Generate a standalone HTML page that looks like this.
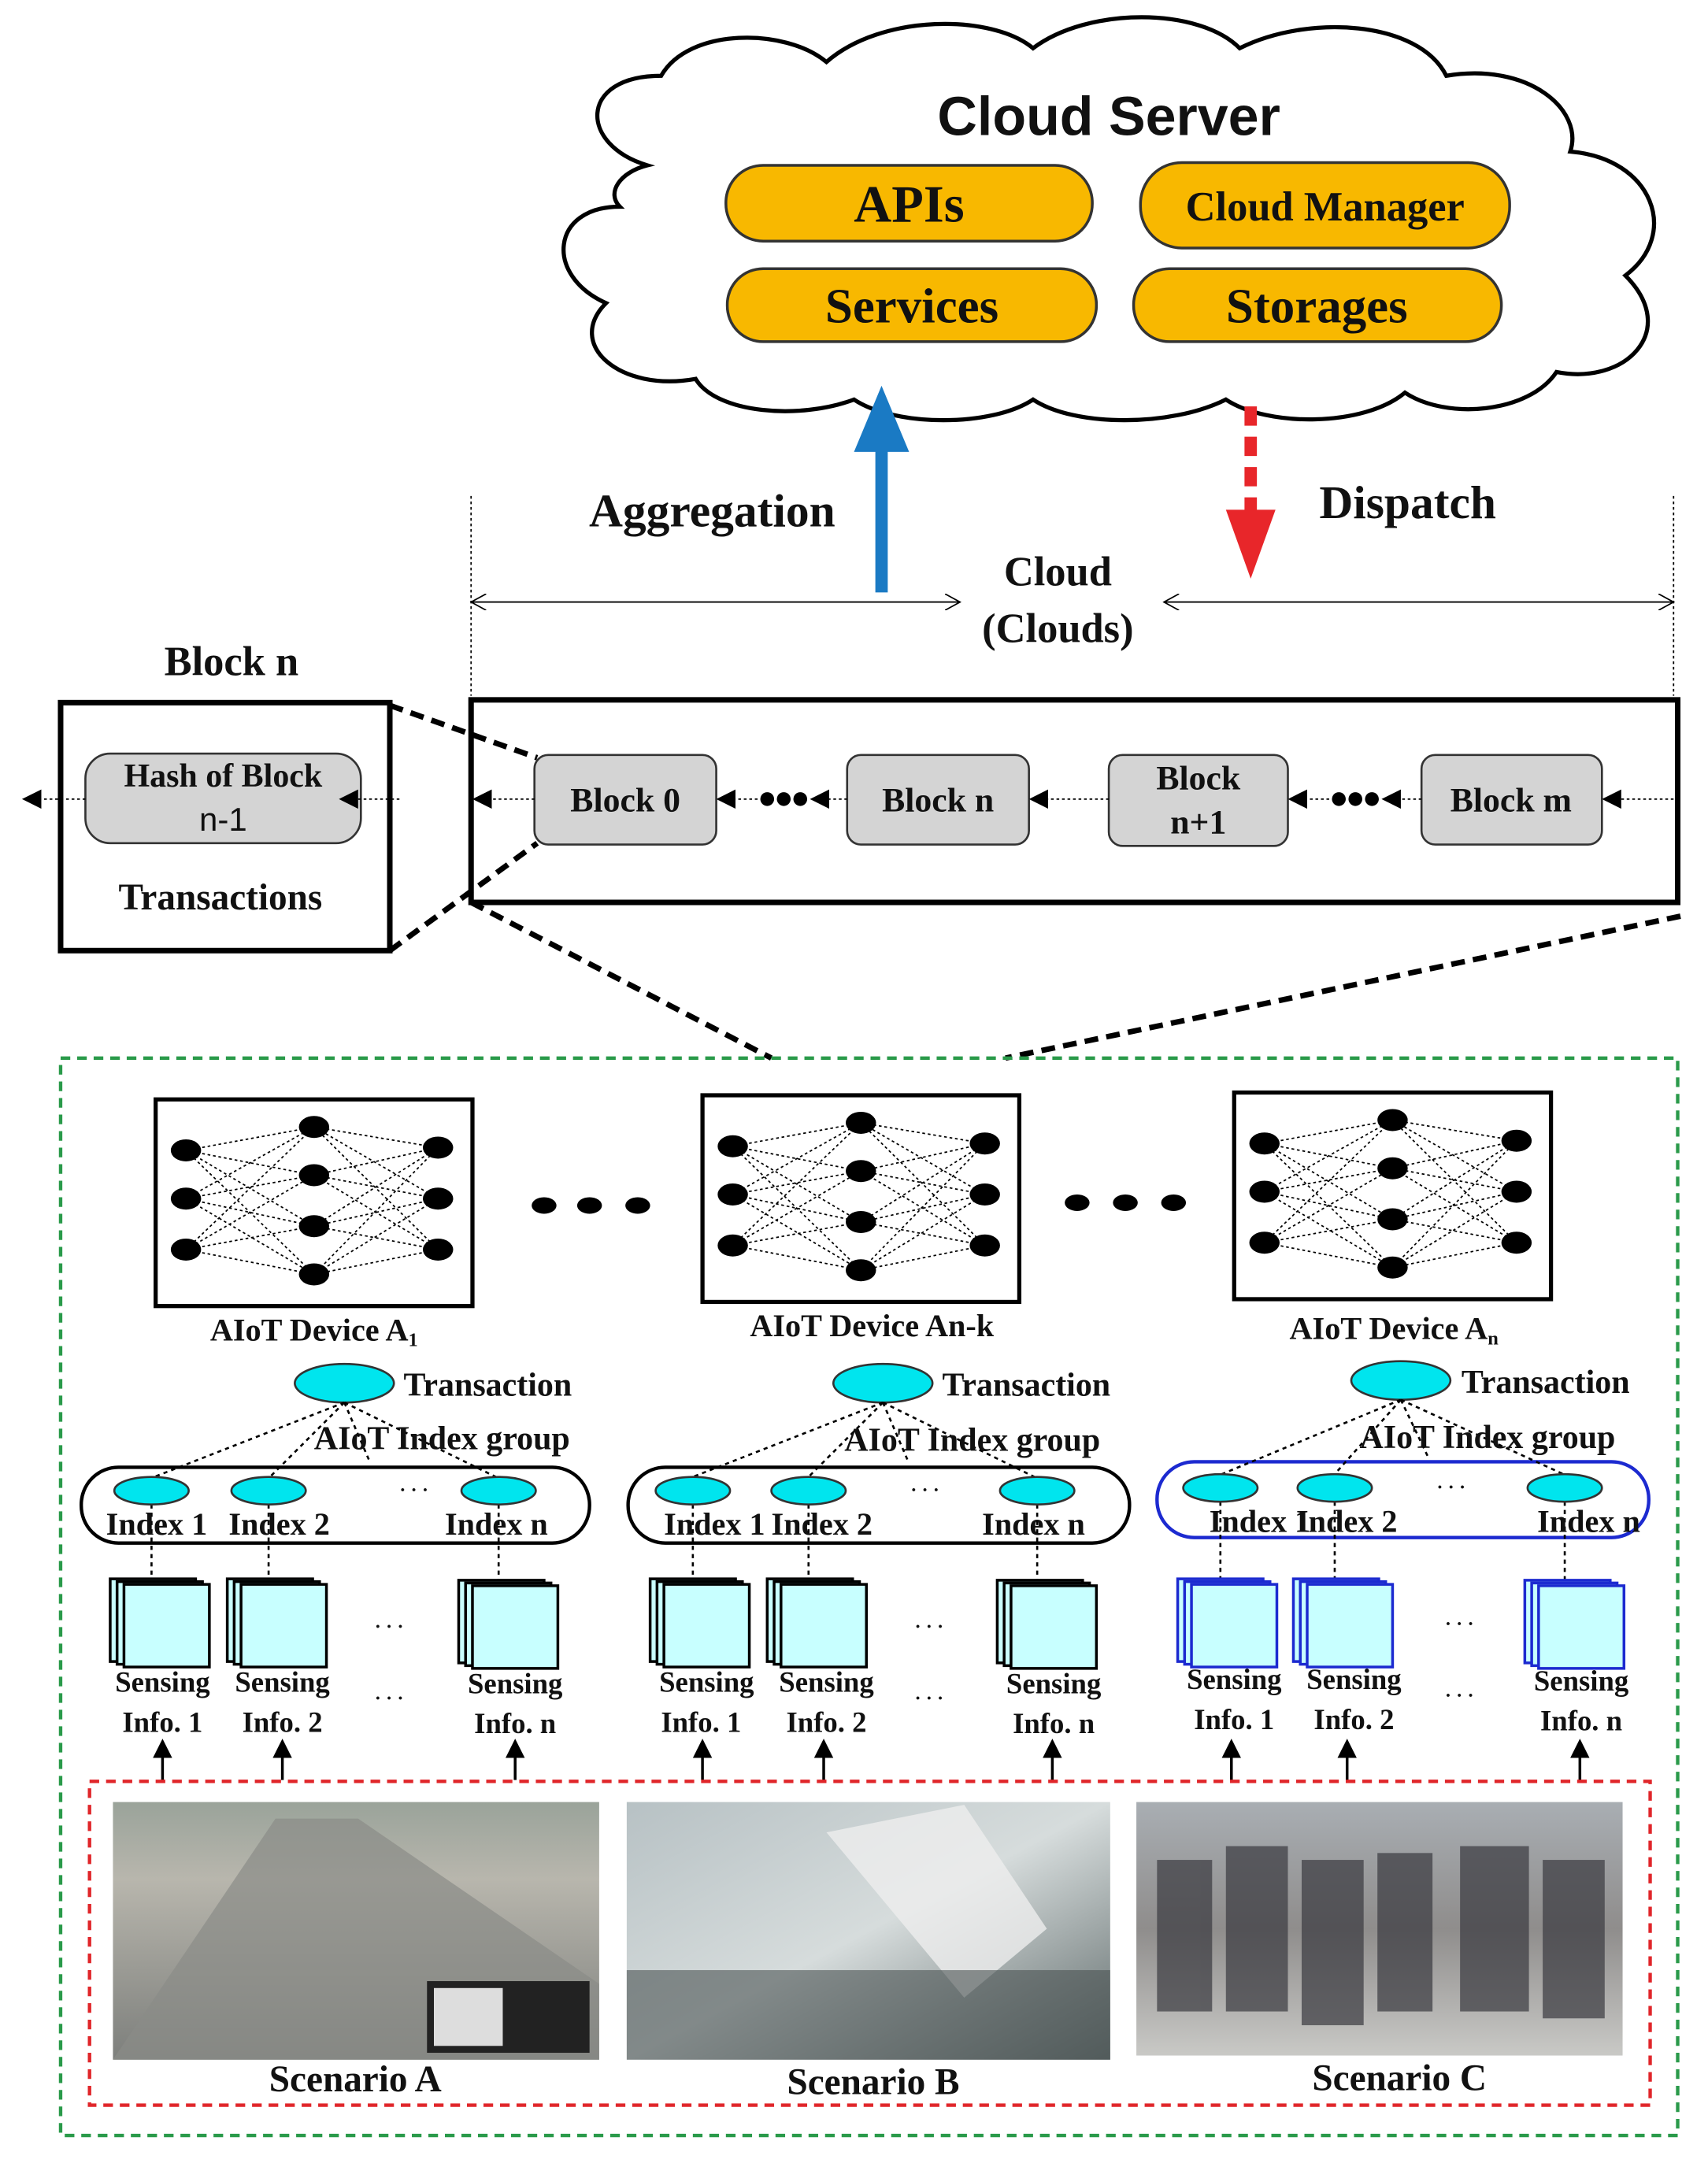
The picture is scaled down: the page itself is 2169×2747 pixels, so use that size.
<!DOCTYPE html>
<html><head><meta charset="utf-8"><style>
html,body{margin:0;padding:0;background:#fff;}
svg{display:block;}
text{font-family:"Liberation Serif",serif;font-weight:bold;fill:#111;}
.sans{font-family:"Liberation Sans",sans-serif;}
</style></head><body>
<svg width="2169" height="2747" viewBox="0 0 1240 1570" preserveAspectRatio="none" xmlns="http://www.w3.org/2000/svg">
<defs>
<marker id="ah" markerWidth="10" markerHeight="10" refX="9" refY="5" orient="auto" markerUnits="userSpaceOnUse"><path d="M0,0 L10,5 L0,10 z" fill="#000"/></marker>
<marker id="ao" markerWidth="12" markerHeight="12" refX="11" refY="6" orient="auto" markerUnits="userSpaceOnUse"><path d="M0,0 L11,6 L0,12" fill="none" stroke="#000" stroke-width="1"/></marker>
<marker id="ab" markerWidth="14" markerHeight="14" refX="12" refY="7" orient="auto" markerUnits="userSpaceOnUse"><path d="M0,0 L14,7 L0,14 z" fill="#000"/></marker>
<g id="nn">
<g stroke="#000" stroke-width="1" stroke-dasharray="2,2">
<path d="M22,37L115,20M22,37L115,55M22,37L115,92M22,37L115,127M22,72L115,20M22,72L115,55M22,72L115,92M22,72L115,127M22,109L115,20M22,109L115,55M22,109L115,92M22,109L115,127M205,35L115,20M205,35L115,55M205,35L115,92M205,35L115,127M205,72L115,20M205,72L115,55M205,72L115,92M205,72L115,127M205,109L115,20M205,109L115,55M205,109L115,92M205,109L115,127"/>
</g>
<g fill="#000">
<ellipse cx="22" cy="37" rx="11" ry="8"/><ellipse cx="22" cy="72" rx="11" ry="8"/><ellipse cx="22" cy="109" rx="11" ry="8"/>
<ellipse cx="115" cy="20" rx="11" ry="8"/><ellipse cx="115" cy="55" rx="11" ry="8"/><ellipse cx="115" cy="92" rx="11" ry="8"/><ellipse cx="115" cy="127" rx="11" ry="8"/>
<ellipse cx="205" cy="35" rx="11" ry="8"/><ellipse cx="205" cy="72" rx="11" ry="8"/><ellipse cx="205" cy="109" rx="11" ry="8"/>
</g>
<rect x="0" y="0" width="230" height="150" fill="none" stroke="#000" stroke-width="3"/>
</g>
<g id="stk">
<rect x="0" y="0" width="62" height="60" fill="#c8ffff" stroke="currentColor" stroke-width="2"/>
<rect x="5" y="2" width="62" height="60" fill="#c8ffff" stroke="currentColor" stroke-width="2"/>
<rect x="10" y="4" width="62" height="60" fill="#c8ffff" stroke="currentColor" stroke-width="2"/>
</g>
<linearGradient id="gA" x1="0" y1="0" x2="0" y2="1"><stop offset="0" stop-color="#9aa39a"/><stop offset="0.3" stop-color="#b8b6ad"/><stop offset="1" stop-color="#7d7f7c"/></linearGradient>
<linearGradient id="gB" x1="0" y1="0" x2="1" y2="1"><stop offset="0" stop-color="#b7c1c4"/><stop offset="0.5" stop-color="#d6dcdc"/><stop offset="1" stop-color="#5f6a6a"/></linearGradient>
<linearGradient id="gC" x1="0" y1="0" x2="0" y2="1"><stop offset="0" stop-color="#a9aeb3"/><stop offset="0.5" stop-color="#8f8d8c"/><stop offset="1" stop-color="#c9c9c6"/></linearGradient>
</defs>

<!-- Cloud -->
<path d="M470,120 C420,105 420,55 480,55 C500,20 570,20 600,45 C640,10 720,10 750,35 C790,5 870,5 900,35 C950,10 1030,15 1050,55 C1110,45 1150,80 1140,110 C1200,115 1220,170 1180,200 C1220,240 1180,280 1130,270 C1110,300 1050,305 1020,285 C990,310 920,310 890,290 C850,310 780,310 750,290 C720,310 650,310 620,290 C580,305 520,300 505,275 C450,285 410,250 440,220 C395,200 400,150 450,150 C440,140 450,125 470,120 Z" fill="#fff" stroke="#000" stroke-width="3"/>
<text x="805" y="98" text-anchor="middle" class="sans" font-size="40">Cloud Server</text>
<g fill="#f8b800" stroke="#333" stroke-width="2">
<rect x="527" y="120" width="266" height="55" rx="27"/>
<rect x="828" y="118" width="268" height="62" rx="30"/>
<rect x="528" y="195" width="268" height="53" rx="26"/>
<rect x="823" y="195" width="267" height="53" rx="26"/>
</g>
<text x="660" y="161" text-anchor="middle" font-size="38">APIs</text>
<text x="962" y="160" text-anchor="middle" font-size="30">Cloud Manager</text>
<text x="662" y="234" text-anchor="middle" font-size="36">Services</text>
<text x="956" y="234" text-anchor="middle" font-size="36">Storages</text>

<!-- arrows -->
<line x1="640" y1="430" x2="640" y2="325" stroke="#1a7ac4" stroke-width="9"/>
<path d="M620,328 L640,280 L660,328 Z" fill="#1a7ac4"/>
<line x1="908" y1="295" x2="908" y2="372" stroke="#e8262a" stroke-width="9" stroke-dasharray="14,8"/>
<path d="M890,370 L908,420 L926,370 Z" fill="#e8262a"/>
<text x="517" y="382" text-anchor="middle" font-size="34">Aggregation</text>
<text x="1022" y="376" text-anchor="middle" font-size="34">Dispatch</text>
<line x1="342" y1="360" x2="342" y2="505" stroke="#000" stroke-width="1" stroke-dasharray="2,2"/>
<line x1="1215" y1="360" x2="1215" y2="505" stroke="#000" stroke-width="1" stroke-dasharray="2,2"/>
<line x1="342" y1="437" x2="697" y2="437" stroke="#000" stroke-width="1" marker-end="url(#ao)"/>
<line x1="697" y1="437" x2="342" y2="437" stroke="#000" stroke-width="1" marker-end="url(#ao)"/>
<line x1="845" y1="437" x2="1215" y2="437" stroke="#000" stroke-width="1" marker-end="url(#ao)"/>
<line x1="1215" y1="437" x2="845" y2="437" stroke="#000" stroke-width="1" marker-end="url(#ao)"/>
<text x="768" y="425" text-anchor="middle" font-size="30">Cloud</text>
<text x="768" y="466" text-anchor="middle" font-size="30">(Clouds)</text>

<!-- Block n box -->
<text x="168" y="490" text-anchor="middle" font-size="30">Block n</text>
<rect x="44" y="510" width="239" height="180" fill="#fff" stroke="#000" stroke-width="4"/>
<rect x="62" y="547" width="200" height="65" rx="18" fill="#d4d4d4" stroke="#333" stroke-width="1.5"/>
<text x="162" y="571" text-anchor="middle" font-size="24">Hash of Block</text>
<text x="162" y="603" text-anchor="middle" font-size="24" font-weight="normal" class="sans" style="font-weight:normal">n-1</text>
<text x="160" y="660" text-anchor="middle" font-size="27">Transactions</text>
<line x1="290" y1="580" x2="248" y2="580" stroke="#000" stroke-dasharray="2,2" marker-end="url(#ab)"/>
<line x1="62" y1="580" x2="18" y2="580" stroke="#000" stroke-dasharray="2,2" marker-end="url(#ab)"/>

<!-- Chain -->
<rect x="342" y="508" width="876" height="147" fill="none" stroke="#000" stroke-width="4"/>
<g fill="#d4d4d4" stroke="#333" stroke-width="1.5">
<rect x="388" y="548" width="132" height="65" rx="10"/>
<rect x="615" y="548" width="132" height="65" rx="10"/>
<rect x="805" y="548" width="130" height="66" rx="10"/>
<rect x="1032" y="548" width="131" height="65" rx="10"/>
</g>
<text x="454" y="589" text-anchor="middle" font-size="25">Block 0</text>
<text x="681" y="589" text-anchor="middle" font-size="25">Block n</text>
<text x="870" y="573" text-anchor="middle" font-size="25">Block</text>
<text x="870" y="605" text-anchor="middle" font-size="25">n+1</text>
<text x="1097" y="589" text-anchor="middle" font-size="25">Block m</text>
<g stroke="#000" stroke-width="1" stroke-dasharray="2,2">
<line x1="1215" y1="580" x2="1165" y2="580" marker-end="url(#ab)"/>
<line x1="1032" y1="580" x2="1005" y2="580" marker-end="url(#ab)"/>
<line x1="965" y1="580" x2="937" y2="580" marker-end="url(#ab)"/>
<line x1="805" y1="580" x2="749" y2="580" marker-end="url(#ab)"/>
<line x1="615" y1="580" x2="590" y2="580" marker-end="url(#ab)"/>
<line x1="550" y1="580" x2="522" y2="580" marker-end="url(#ab)"/>
<line x1="388" y1="580" x2="345" y2="580" marker-end="url(#ab)"/>
</g>
<g fill="#000"><circle cx="557" cy="580" r="5"/><circle cx="569" cy="580" r="5"/><circle cx="581" cy="580" r="5"/>
<circle cx="972" cy="580" r="5"/><circle cx="984" cy="580" r="5"/><circle cx="996" cy="580" r="5"/></g>

<!-- dashed zoom lines -->
<g stroke="#000" stroke-width="4" stroke-dasharray="10,6">
<line x1="283" y1="512" x2="390" y2="550"/>
<line x1="283" y1="690" x2="390" y2="612"/>
<line x1="342" y1="655" x2="560" y2="768"/>
<line x1="1220" y1="665" x2="730" y2="768"/>
</g>

<!-- Green dashed box -->
<rect x="44" y="768" width="1174" height="782" fill="none" stroke="#2a9a4a" stroke-width="2.5" stroke-dasharray="7,5"/>

<use href="#nn" x="113" y="798"/>
<use href="#nn" x="510" y="795"/>
<use href="#nn" x="896" y="793"/>
<g fill="#000">
<ellipse cx="395" cy="875" rx="9" ry="6"/><ellipse cx="428" cy="875" rx="9" ry="6"/><ellipse cx="463" cy="875" rx="9" ry="6"/>
<ellipse cx="782" cy="873" rx="9" ry="6"/><ellipse cx="817" cy="873" rx="9" ry="6"/><ellipse cx="852" cy="873" rx="9" ry="6"/>
</g>
<text x="228" y="973" text-anchor="middle" font-size="23">AIoT Device A<tspan font-size="14" dy="4">1</tspan></text>
<text x="633" y="970" text-anchor="middle" font-size="23">AIoT Device An-k</text>
<text x="1012" y="972" text-anchor="middle" font-size="23">AIoT Device A<tspan font-size="14" dy="4">n</tspan></text>

<!-- groups -->
<g id="grp1">
<rect x="59" y="1065" width="369" height="55" rx="27" fill="none" stroke="#000" stroke-width="2.5"/>
<ellipse cx="250" cy="1004" rx="36" ry="14" fill="#00e5ee" stroke="#333" stroke-width="1.5"/>
<g stroke="#000" stroke-width="1.5" stroke-dasharray="3,3">
<line x1="250" y1="1018" x2="112" y2="1072"/><line x1="250" y1="1018" x2="196" y2="1072"/><line x1="250" y1="1018" x2="268" y2="1060"/><line x1="250" y1="1018" x2="360" y2="1072"/>
<line x1="110" y1="1092" x2="110" y2="1150"/><line x1="195" y1="1092" x2="195" y2="1150"/><line x1="362" y1="1092" x2="362" y2="1150"/>
</g>
<g fill="#00e5ee" stroke="#333" stroke-width="1.5">
<ellipse cx="110" cy="1082" rx="27" ry="10"/><ellipse cx="195" cy="1082" rx="27" ry="10"/><ellipse cx="362" cy="1082" rx="27" ry="10"/></g>
<text x="293" y="1013" font-size="24" font-weight="normal">Transaction</text>
<text x="228" y="1052" font-size="24">AIoT Index group</text>
<text x="290" y="1086" font-size="14">· · ·</text>
<text x="77" y="1114" font-size="23">Index 1</text>
<text x="166" y="1114" font-size="23">Index  2</text>
<text x="323" y="1114" font-size="23">Index n</text>
<use href="#stk" x="80" y="1146" color="#000"/><use href="#stk" x="165" y="1146" color="#000"/><use href="#stk" x="333" y="1147" color="#000"/>
<text x="272" y="1185" font-size="14">· · ·</text>
<text x="272" y="1237" font-size="14">· · ·</text>
<text x="118" y="1228" text-anchor="middle" font-size="21">Sensing</text><text x="118" y="1257" text-anchor="middle" font-size="21">Info. 1</text>
<text x="205" y="1228" text-anchor="middle" font-size="21">Sensing</text><text x="205" y="1257" text-anchor="middle" font-size="21">Info. 2</text>
<text x="374" y="1229" text-anchor="middle" font-size="21">Sensing</text><text x="374" y="1258" text-anchor="middle" font-size="21">Info. n</text>
</g>
<g transform="translate(397,0)">
<rect x="59" y="1065" width="364" height="55" rx="27" fill="none" stroke="#000" stroke-width="2.5"/>
<ellipse cx="244" cy="1004" rx="36" ry="14" fill="#00e5ee" stroke="#333" stroke-width="1.5"/>
<g stroke="#000" stroke-width="1.5" stroke-dasharray="3,3">
<line x1="244" y1="1018" x2="106" y2="1072"/><line x1="244" y1="1018" x2="190" y2="1072"/><line x1="244" y1="1018" x2="262" y2="1060"/><line x1="244" y1="1018" x2="354" y2="1072"/>
<line x1="106" y1="1092" x2="106" y2="1150"/><line x1="190" y1="1092" x2="190" y2="1150"/><line x1="356" y1="1092" x2="356" y2="1150"/>
</g>
<g fill="#00e5ee" stroke="#333" stroke-width="1.5">
<ellipse cx="106" cy="1082" rx="27" ry="10"/><ellipse cx="190" cy="1082" rx="27" ry="10"/><ellipse cx="356" cy="1082" rx="27" ry="10"/></g>
<text x="287" y="1013" font-size="24" font-weight="normal">Transaction</text>
<text x="216" y="1053" font-size="24">AIoT Index group</text>
<text x="264" y="1086" font-size="14">· · ·</text>
<text x="85" y="1114" font-size="23">Index 1</text>
<text x="163" y="1114" font-size="23">Index  2</text>
<text x="316" y="1114" font-size="23">Index n</text>
<use href="#stk" x="75" y="1146" color="#000"/><use href="#stk" x="160" y="1146" color="#000"/><use href="#stk" x="327" y="1147" color="#000"/>
<text x="267" y="1185" font-size="14">· · ·</text>
<text x="267" y="1237" font-size="14">· · ·</text>
<text x="116" y="1228" text-anchor="middle" font-size="21">Sensing</text><text x="112" y="1257" text-anchor="middle" font-size="21">Info. 1</text>
<text x="203" y="1228" text-anchor="middle" font-size="21">Sensing</text><text x="203" y="1257" text-anchor="middle" font-size="21">Info. 2</text>
<text x="368" y="1229" text-anchor="middle" font-size="21">Sensing</text><text x="368" y="1258" text-anchor="middle" font-size="21">Info. n</text>
</g>
<g transform="translate(781,-2)">
<rect x="59" y="1063" width="357" height="55" rx="27" fill="none" stroke="#1c2ad0" stroke-width="2.5"/>
<ellipse cx="236" cy="1004" rx="36" ry="14" fill="#00e5ee" stroke="#333" stroke-width="1.5"/>
<g stroke="#000" stroke-width="1.5" stroke-dasharray="3,3">
<line x1="236" y1="1018" x2="106" y2="1072"/><line x1="236" y1="1018" x2="188" y2="1072"/><line x1="236" y1="1018" x2="256" y2="1060"/><line x1="236" y1="1018" x2="354" y2="1072"/>
<line x1="105" y1="1092" x2="105" y2="1150"/><line x1="188" y1="1092" x2="188" y2="1150"/><line x1="355" y1="1092" x2="355" y2="1150"/>
</g>
<g fill="#00e5ee" stroke="#333" stroke-width="1.5">
<ellipse cx="105" cy="1082" rx="27" ry="10"/><ellipse cx="188" cy="1082" rx="27" ry="10"/><ellipse cx="355" cy="1082" rx="27" ry="10"/></g>
<text x="280" y="1013" font-size="24" font-weight="normal">Transaction</text>
<text x="206" y="1053" font-size="24">AIoT Index group</text>
<text x="262" y="1086" font-size="14">· · ·</text>
<text x="97" y="1114" font-size="23">Index 1</text>
<text x="160" y="1114" font-size="23">Index  2</text>
<text x="335" y="1114" font-size="23">Index n</text>
<use href="#stk" x="74" y="1148" color="#1c2ad0"/><use href="#stk" x="158" y="1148" color="#1c2ad0"/><use href="#stk" x="326" y="1149" color="#1c2ad0"/>
<text x="268" y="1185" font-size="14">· · ·</text>
<text x="268" y="1237" font-size="14">· · ·</text>
<text x="115" y="1228" text-anchor="middle" font-size="21">Sensing</text><text x="115" y="1257" text-anchor="middle" font-size="21">Info. 1</text>
<text x="202" y="1228" text-anchor="middle" font-size="21">Sensing</text><text x="202" y="1257" text-anchor="middle" font-size="21">Info. 2</text>
<text x="367" y="1229" text-anchor="middle" font-size="21">Sensing</text><text x="367" y="1258" text-anchor="middle" font-size="21">Info. n</text>
</g>

<!-- up arrows -->
<g stroke="#000" stroke-width="2">
<line x1="118" y1="1292" x2="118" y2="1264" marker-end="url(#ab)"/>
<line x1="205" y1="1292" x2="205" y2="1264" marker-end="url(#ab)"/>
<line x1="374" y1="1292" x2="374" y2="1264" marker-end="url(#ab)"/>
<line x1="510" y1="1292" x2="510" y2="1264" marker-end="url(#ab)"/>
<line x1="598" y1="1292" x2="598" y2="1264" marker-end="url(#ab)"/>
<line x1="764" y1="1292" x2="764" y2="1264" marker-end="url(#ab)"/>
<line x1="894" y1="1292" x2="894" y2="1264" marker-end="url(#ab)"/>
<line x1="978" y1="1292" x2="978" y2="1264" marker-end="url(#ab)"/>
<line x1="1147" y1="1292" x2="1147" y2="1264" marker-end="url(#ab)"/>
</g>

<!-- red dashed -->
<rect x="65" y="1293" width="1133" height="235" fill="none" stroke="#e0262a" stroke-width="2.5" stroke-dasharray="7,5"/>

<!-- photos -->
<rect x="82" y="1308" width="353" height="187" fill="url(#gA)"/>
<path d="M82,1495 L200,1320 L260,1320 L435,1440 L435,1495 Z" fill="#8a8c88" opacity="0.7"/>
<rect x="310" y="1438" width="118" height="52" fill="#222"/>
<rect x="315" y="1443" width="50" height="42" fill="#ddd"/>
<rect x="455" y="1308" width="351" height="187" fill="url(#gB)"/>
<path d="M600,1330 L700,1310 L760,1400 L700,1450 Z" fill="#eeeeee" opacity="0.8"/>
<rect x="455" y="1430" width="351" height="65" fill="#4a5252" opacity="0.6"/>
<rect x="825" y="1308" width="353" height="184" fill="url(#gC)"/>
<g fill="#3a3a40" opacity="0.7">
<rect x="840" y="1350" width="40" height="110"/><rect x="890" y="1340" width="45" height="120"/><rect x="945" y="1350" width="45" height="120"/><rect x="1000" y="1345" width="40" height="115"/><rect x="1060" y="1340" width="50" height="120"/><rect x="1120" y="1350" width="45" height="115"/>
</g>
<text x="258" y="1518" text-anchor="middle" font-size="27">Scenario A</text>
<text x="634" y="1520" text-anchor="middle" font-size="27">Scenario B</text>
<text x="1016" y="1517" text-anchor="middle" font-size="27">Scenario C</text>
</svg>
</body></html>
